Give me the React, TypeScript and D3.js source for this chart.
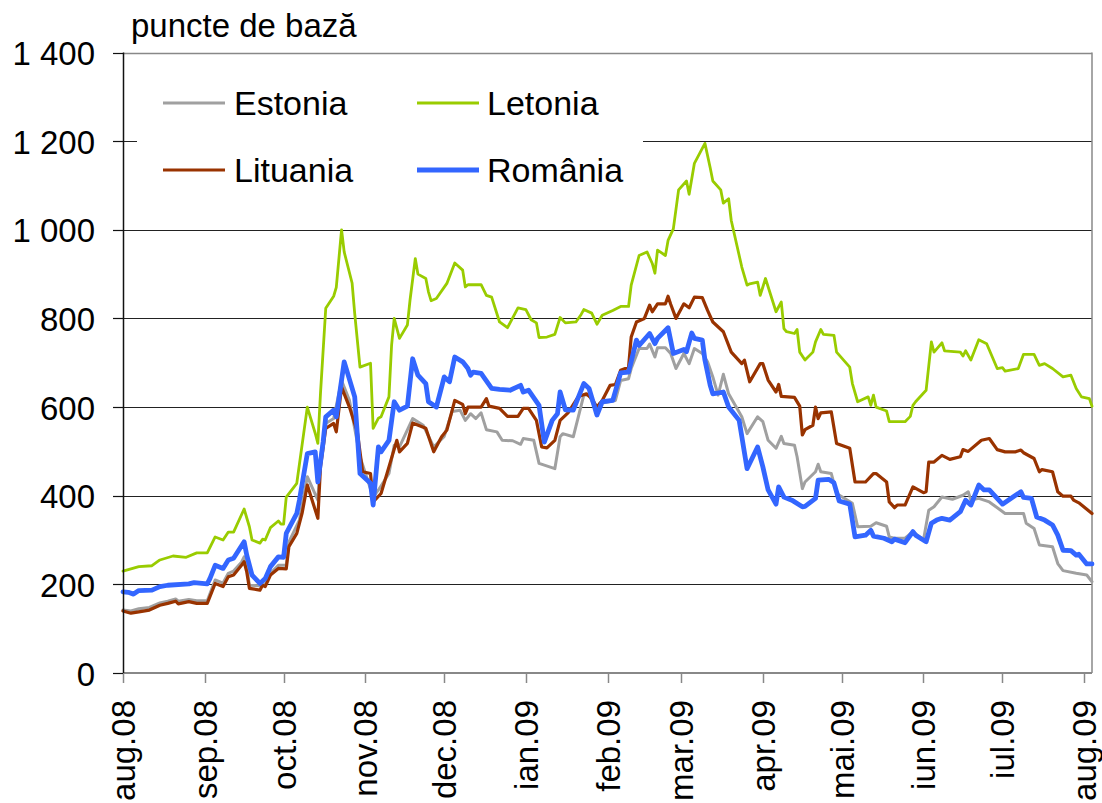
import React from 'react';
import * as d3 from 'd3';

// ---------- data ----------
const estonia: [string, number][] = [
  ["2008-08-01",142],["2008-08-04",140],["2008-08-07",145],["2008-08-11",148],["2008-08-15",158],["2008-08-18",162],["2008-08-21",167],["2008-08-22",162],["2008-08-26",166],["2008-08-29",163],
  ["2008-09-02",163],["2008-09-05",210],["2008-09-08",203],["2008-09-10",225],["2008-09-12",230],["2008-09-15",250],["2008-09-16",262],["2008-09-17",240],["2008-09-18",198],["2008-09-22",197],["2008-09-24",200],["2008-09-26",225],["2008-09-29",243],
  ["2008-10-02",243],["2008-10-03",296],["2008-10-07",345],["2008-10-10",443],["2008-10-14",390],["2008-10-15",488],["2008-10-17",563],["2008-10-20",574],["2008-10-23",660],["2008-10-26",615],["2008-10-30",488],
  ["2008-11-04",397],["2008-11-06",413],["2008-11-10",450],["2008-11-12",514],["2008-11-14",510],["2008-11-19",574],["2008-11-23",559],["2008-11-27",510],
  ["2008-12-01",534],["2008-12-04",590],["2008-12-07",593],["2008-12-09",570],["2008-12-11",585],["2008-12-13",574],["2008-12-15",587],["2008-12-17",549],["2008-12-21",544],["2008-12-23",525],["2008-12-27",524],["2008-12-30",516],["2008-12-31",529],
  ["2009-01-04",525],["2009-01-06",473],["2009-01-12",461],["2009-01-14",533],["2009-01-15",540],["2009-01-19",533],["2009-01-23",627],["2009-01-25",627],["2009-01-28",589],["2009-01-29",608],
  ["2009-02-04",615],["2009-02-06",660],["2009-02-09",664],["2009-02-10",687],["2009-02-13",732],["2009-02-16",732],["2009-02-17",742],["2009-02-19",713],["2009-02-20",734],["2009-02-23",734],["2009-02-25",721],["2009-02-27",687],
  ["2009-03-02",721],["2009-03-04",698],["2009-03-06",732],["2009-03-09",721],["2009-03-11",702],["2009-03-13",668],["2009-03-15",627],["2009-03-17",674],["2009-03-19",630],["2009-03-24",578],["2009-03-26",540],["2009-03-30",578],
  ["2009-04-01",567],["2009-04-03",525],["2009-04-06",507],["2009-04-08",534],["2009-04-09",518],["2009-04-13",514],["2009-04-14",488],["2009-04-16",416],["2009-04-17",431],["2009-04-21",454],["2009-04-22",471],["2009-04-23",454],["2009-04-27",450],["2009-04-29",405],
  ["2009-05-05",383],["2009-05-07",330],["2009-05-12",331],["2009-05-14",339],["2009-05-18",331],["2009-05-19",307],["2009-05-21",304],["2009-05-25",304],["2009-05-28",319],
  ["2009-06-01",300],["2009-06-03",367],["2009-06-05",375],["2009-06-08",397],["2009-06-12",392],["2009-06-16",401],["2009-06-18",409],["2009-06-19",390],["2009-06-22",394],["2009-06-26",386],
  ["2009-07-02",360],["2009-07-09",360],["2009-07-10",338],["2009-07-13",326],["2009-07-15",289],["2009-07-20",285],["2009-07-22",247],["2009-07-24",231],["2009-07-29",225],
  ["2009-08-02",221],["2009-08-04",206],
];

const letonia: [string, number][] = [
  ["2008-08-01",230],["2008-08-07",240],["2008-08-12",242],["2008-08-15",255],["2008-08-20",264],["2008-08-25",261],["2008-08-29",271],
  ["2008-09-02",271],["2008-09-05",307],["2008-09-08",300],["2008-09-10",318],["2008-09-12",318],["2008-09-16",370],["2008-09-18",330],["2008-09-19",300],["2008-09-22",293],["2008-09-23",302],["2008-09-24",300],["2008-09-26",328],["2008-09-29",343],["2008-09-30",336],
  ["2008-10-01",336],["2008-10-02",397],["2008-10-06",428],["2008-10-10",600],["2008-10-13",541],["2008-10-14",518],["2008-10-15",631],["2008-10-17",823],["2008-10-20",850],["2008-10-21",870],["2008-10-23",1000],["2008-10-24",950],["2008-10-27",880],["2008-10-28",811],["2008-10-30",690],
  ["2008-11-03",699],["2008-11-04",552],["2008-11-06",575],["2008-11-07",578],["2008-11-10",623],["2008-11-11",739],["2008-11-12",800],["2008-11-14",755],["2008-11-17",785],["2008-11-18",841],["2008-11-20",935],["2008-11-21",900],["2008-11-24",890],["2008-11-25",860],["2008-11-26",840],["2008-11-28",845],
  ["2008-12-02",879],["2008-12-05",925],["2008-12-08",909],["2008-12-09",871],["2008-12-10",876],["2008-12-15",876],["2008-12-17",852],["2008-12-19",848],["2008-12-22",792],["2008-12-25",779],["2008-12-29",824],
  ["2009-01-01",820],["2009-01-03",797],["2009-01-05",790],["2009-01-06",757],["2009-01-09",758],["2009-01-12",764],["2009-01-14",802],["2009-01-16",790],["2009-01-20",792],["2009-01-22",809],["2009-01-23",820],["2009-01-26",812],["2009-01-28",787],["2009-01-30",807],
  ["2009-02-03",818],["2009-02-06",827],["2009-02-09",827],["2009-02-10",875],["2009-02-13",942],["2009-02-16",950],["2009-02-18",924],["2009-02-19",902],["2009-02-20",954],["2009-02-23",942],["2009-02-24",976],["2009-02-26",1002],["2009-02-28",1090],
  ["2009-03-03",1110],["2009-03-04",1080],["2009-03-06",1150],["2009-03-10",1195],["2009-03-12",1140],["2009-03-13",1110],["2009-03-16",1090],["2009-03-17",1060],["2009-03-19",1070],["2009-03-20",1021],["2009-03-24",916],["2009-03-26",875],["2009-03-27",878],["2009-03-30",882],["2009-03-31",852],
  ["2009-04-02",890],["2009-04-06",815],["2009-04-08",837],["2009-04-09",777],["2009-04-10",770],["2009-04-13",766],["2009-04-14",775],["2009-04-15",724],["2009-04-17",706],["2009-04-20",724],["2009-04-21",747],["2009-04-23",775],["2009-04-24",764],["2009-04-28",762],["2009-04-29",724],
  ["2009-05-04",690],["2009-05-05",653],["2009-05-07",612],["2009-05-11",623],["2009-05-12",604],["2009-05-13",627],["2009-05-14",600],["2009-05-18",591],["2009-05-19",567],["2009-05-25",567],["2009-05-27",579],["2009-05-28",604],["2009-05-29",612],
  ["2009-06-02",638],["2009-06-04",747],["2009-06-05",724],["2009-06-08",745],["2009-06-09",727],["2009-06-15",724],["2009-06-16",715],["2009-06-17",727],["2009-06-19",706],["2009-06-22",752],["2009-06-25",743],["2009-06-29",687],
  ["2009-07-01",689],["2009-07-02",681],["2009-07-07",687],["2009-07-09",719],["2009-07-13",719],["2009-07-15",694],["2009-07-17",698],["2009-07-20",687],["2009-07-24",668],["2009-07-27",672],["2009-07-29",642],["2009-07-31",623],
  ["2009-08-03",619],["2009-08-04",602],
];

const lituania: [string, number][] = [
  ["2008-08-01",140],["2008-08-04",135],["2008-08-07",138],["2008-08-11",142],["2008-08-15",153],["2008-08-18",157],["2008-08-21",162],["2008-08-22",156],["2008-08-26",161],["2008-08-29",157],
  ["2008-09-02",157],["2008-09-05",202],["2008-09-08",195],["2008-09-10",217],["2008-09-12",221],["2008-09-15",243],["2008-09-16",251],["2008-09-17",228],["2008-09-18",191],["2008-09-22",187],["2008-09-23",198],["2008-09-24",195],["2008-09-26",221],["2008-09-29",236],
  ["2008-10-02",235],["2008-10-03",285],["2008-10-06",315],["2008-10-08",360],["2008-10-10",424],["2008-10-14",349],["2008-10-15",465],["2008-10-17",552],["2008-10-20",563],["2008-10-21",544],["2008-10-23",645],["2008-10-26",600],["2008-10-29",544],["2008-10-31",454],
  ["2008-11-03",450],["2008-11-04",386],["2008-11-07",405],["2008-11-10",465],["2008-11-13",525],["2008-11-14",499],["2008-11-17",518],["2008-11-19",564],["2008-11-24",552],["2008-11-27",499],["2008-11-30",533],
  ["2008-12-02",548],["2008-12-05",615],["2008-12-08",606],["2008-12-09",585],["2008-12-10",600],["2008-12-15",600],["2008-12-17",619],["2008-12-18",602],["2008-12-22",597],["2008-12-25",579],["2008-12-29",579],["2008-12-31",597],
  ["2009-01-02",597],["2009-01-05",570],["2009-01-07",510],["2009-01-09",508],["2009-01-12",525],["2009-01-14",570],["2009-01-17",587],["2009-01-21",624],["2009-01-24",630],["2009-01-26",619],["2009-01-28",600],["2009-01-30",615],
  ["2009-02-02",649],["2009-02-04",651],["2009-02-06",683],["2009-02-09",690],["2009-02-10",758],["2009-02-12",792],["2009-02-15",800],["2009-02-17",830],["2009-02-18",815],["2009-02-20",833],["2009-02-23",833],["2009-02-24",850],["2009-02-25",832],["2009-02-27",800],
  ["2009-03-02",833],["2009-03-04",824],["2009-03-06",848],["2009-03-09",847],["2009-03-11",818],["2009-03-13",792],["2009-03-17",770],["2009-03-20",724],["2009-03-24",698],["2009-03-25",706],["2009-03-27",657],["2009-03-31",698],
  ["2009-04-01",698],["2009-04-03",661],["2009-04-06",634],["2009-04-07",651],["2009-04-08",624],["2009-04-13",622],["2009-04-15",602],["2009-04-16",537],["2009-04-17",549],["2009-04-20",559],["2009-04-21",600],["2009-04-22",574],["2009-04-23",587],["2009-04-27",589],["2009-04-29",518],
  ["2009-05-04",507],["2009-05-06",431],["2009-05-10",431],["2009-05-13",450],["2009-05-14",450],["2009-05-18",431],["2009-05-19",386],["2009-05-21",373],["2009-05-22",379],["2009-05-25",379],["2009-05-28",420],
  ["2009-06-01",407],["2009-06-02",409],["2009-06-03",476],["2009-06-05",476],["2009-06-08",491],["2009-06-11",482],["2009-06-15",488],["2009-06-16",504],["2009-06-18",500],["2009-06-23",525],["2009-06-26",529],["2009-06-29",504],
  ["2009-07-02",499],["2009-07-06",499],["2009-07-08",503],["2009-07-09",497],["2009-07-13",484],["2009-07-15",454],["2009-07-16",459],["2009-07-20",454],["2009-07-22",409],["2009-07-24",399],["2009-07-27",399],["2009-07-28",390],["2009-07-30",384],
  ["2009-08-04",360],
];

const romania: [string, number][] = [
  ["2008-08-01",183],["2008-08-03",182],["2008-08-05",178],["2008-08-07",186],["2008-08-12",187],["2008-08-15",195],["2008-08-18",198],["2008-08-26",201],["2008-08-28",204],
  ["2008-09-02",201],["2008-09-03",213],["2008-09-05",243],["2008-09-08",236],["2008-09-10",255],["2008-09-12",259],["2008-09-16",296],["2008-09-17",266],["2008-09-19",221],["2008-09-22",202],["2008-09-24",213],["2008-09-26",240],["2008-09-29",262],
  ["2008-10-01",261],["2008-10-02",315],["2008-10-06",360],["2008-10-07",390],["2008-10-10",495],["2008-10-13",499],["2008-10-14",431],["2008-10-16",521],["2008-10-17",578],["2008-10-20",593],["2008-10-21",578],["2008-10-24",702],["2008-10-28",623],["2008-10-30",450],
  ["2008-11-03",428],["2008-11-04",379],["2008-11-06",510],["2008-11-07",499],["2008-11-10",525],["2008-11-12",612],["2008-11-14",593],["2008-11-17",602],["2008-11-19",709],["2008-11-21",672],["2008-11-24",653],["2008-11-25",612],["2008-11-28",600],
  ["2008-12-01",668],["2008-12-03",657],["2008-12-05",713],["2008-12-08",702],["2008-12-10",687],["2008-12-11",672],["2008-12-12",679],["2008-12-15",676],["2008-12-19",642],["2008-12-22",640],["2008-12-26",638],["2008-12-30",649],["2008-12-31",634],
  ["2009-01-02",638],["2009-01-06",604],["2009-01-08",521],["2009-01-11",570],["2009-01-13",585],["2009-01-14",634],["2009-01-16",594],["2009-01-19",593],["2009-01-23",653],["2009-01-25",642],["2009-01-28",582],["2009-01-30",612],
  ["2009-02-03",615],["2009-02-06",677],["2009-02-09",679],["2009-02-12",751],["2009-02-13",739],["2009-02-17",766],["2009-02-19",743],["2009-02-20",755],["2009-02-24",779],["2009-02-26",721],
  ["2009-03-02",730],["2009-03-03",725],["2009-03-05",767],["2009-03-06",755],["2009-03-09",751],["2009-03-10",706],["2009-03-12",649],["2009-03-13",630],["2009-03-17",634],["2009-03-19",600],["2009-03-23",570],["2009-03-26",461],["2009-03-30",510],
  ["2009-04-01",465],["2009-04-03",413],["2009-04-06",381],["2009-04-07",420],["2009-04-09",397],["2009-04-12",390],["2009-04-16",375],["2009-04-17",376],["2009-04-21",394],["2009-04-22",435],["2009-04-26",437],["2009-04-28",429],["2009-04-30",388],
  ["2009-05-04",381],["2009-05-06",307],["2009-05-10",311],["2009-05-12",322],["2009-05-13",309],["2009-05-17",304],["2009-05-20",296],["2009-05-21",302],["2009-05-25",294],["2009-05-28",319],["2009-05-29",311],
  ["2009-06-02",296],["2009-06-04",338],["2009-06-06",345],["2009-06-08",349],["2009-06-11",345],["2009-06-15",364],["2009-06-17",390],["2009-06-19",379],["2009-06-22",424],["2009-06-24",413],["2009-06-26",413],
  ["2009-07-01",381],["2009-07-05",397],["2009-07-08",409],["2009-07-09",396],["2009-07-12",394],["2009-07-14",352],["2009-07-17",345],["2009-07-20",334],["2009-07-22",311],["2009-07-24",277],["2009-07-27",276],["2009-07-29",266],["2009-07-30",268],
  ["2009-08-02",246],["2009-08-04",246],
];

const seriesNames = ["Estonia", "Letonia", "Lituania", "România"];
const yTickValues = [0, 200, 400, 600, 800, 1000, 1200, 1400];
const yTickLabels = ["0", "200", "400", "600", "800", "1 000", "1 200", "1 400"];
const monthTicks = ["2008-08-01","2008-09-01","2008-10-01","2008-11-01","2008-12-01","2009-01-01","2009-02-01","2009-03-01","2009-04-01","2009-05-01","2009-06-01","2009-07-01","2009-08-01"];
const monthLabels = ["aug.08","sep.08","oct.08","nov.08","dec.08","ian.09","feb.09","mar.09","apr.09","mai.09","iun.09","iul.09","aug.09"];
const axisTitle = "puncte de bază";
const dateStart = "2008-08-01";
const dateEnd = "2009-08-04";

// ---------- styling ----------
const FONT = "'Liberation Sans', Arial, sans-serif";
const styles = [
  { color: "#a0a0a0", width: 3 },
  { color: "#99cc00", width: 2.8 },
  { color: "#993300", width: 3.2 },
  { color: "#3366ff", width: 4.8 },
];

const W = 1102, H = 803;
const LEFT = 123, RIGHT = 1092, TOP = 52.5, BOTTOM = 673;

export default function App() {
  const parse = d3.timeParse("%Y-%m-%d");
  const x = d3.scaleTime().domain([parse(dateStart)!, parse(dateEnd)!]).range([LEFT, RIGHT]);
  const y = d3.scaleLinear().domain([0, 1400]).range([BOTTOM, TOP]);
  const line = d3.line<[string, number]>()
    .x(d => x(parse(d[0])!))
    .y(d => y(d[1]));
  const allSeries = [estonia, letonia, lituania, romania];
  const crisp = (v: number) => Math.round(v) + 0.5;

  const legendItems = [
    { i: 0, lx: 163, ly: 103, tx: 234, ty: 115 },
    { i: 1, lx: 417, ly: 103, tx: 487, ty: 115 },
    { i: 2, lx: 163, ly: 170, tx: 234, ty: 182 },
    { i: 3, lx: 417, ly: 170, tx: 487, ty: 182 },
  ];

  return (
    <svg width={W} height={H} style={{ position: 'absolute', left: 0, top: 0, background: '#fff' }}
      fontFamily={FONT}>
      <rect x={0} y={0} width={W} height={H} fill="#fff" />
      {/* gridlines */}
      {yTickValues.filter(v => v > 0 && v < 1400).map(v => (
        <line key={'g' + v} x1={LEFT} x2={RIGHT} y1={crisp(y(v))} y2={crisp(y(v))} stroke="#222" strokeWidth={1} />
      ))}
      {/* plot border */}
      <line x1={LEFT} x2={RIGHT} y1={crisp(y(1400))} y2={crisp(y(1400))} stroke="#888" strokeWidth={1.5} />
      <line x1={RIGHT} x2={RIGHT} y1={TOP} y2={BOTTOM} stroke="#888" strokeWidth={1.5} />
      {/* legend background */}
      <rect x={137} y={55} width={506} height={145} fill="#fff" />
      {/* series */}
      {allSeries.map((s, i) => (
        <path key={'s' + i} d={line(s) || ''} fill="none" stroke={styles[i].color}
          strokeWidth={styles[i].width} strokeLinejoin="round" strokeLinecap="round" />
      ))}
      {/* axes */}
      <line x1={LEFT} x2={RIGHT} y1={BOTTOM} y2={BOTTOM} stroke="#888" strokeWidth={2} />
      {monthTicks.map((m, i) => {
        const tx = Math.round(x(parse(m)!)) + 0.5;
        return <line key={'xt' + i} x1={tx} x2={tx} y1={BOTTOM} y2={BOTTOM + 10} stroke="#888" strokeWidth={1.5} />;
      })}
      <line x1={LEFT + 0.5} x2={LEFT + 0.5} y1={TOP} y2={BOTTOM} stroke="#111" strokeWidth={1.5} />
      {yTickValues.map(v => (
        <line key={'yt' + v} x1={113} x2={LEFT} y1={crisp(y(v))} y2={crisp(y(v))} stroke="#111" strokeWidth={1.2} />
      ))}
      {/* y labels */}
      {yTickValues.map((v, i) => (
        <text key={'yl' + v} x={95} y={y(v) + 12.5} fontSize={33} textAnchor="end" fill="#000">{yTickLabels[i]}</text>
      ))}
      {/* x labels */}
      {monthTicks.map((m, i) => {
        const tx = x(parse(m)!) + 12;
        return (
          <text key={'xl' + i} transform={`translate(${tx},700) rotate(-90)`} fontSize={33} textAnchor="end" fill="#000">
            {monthLabels[i]}
          </text>
        );
      })}
      {/* axis title */}
      <text x={131} y={37} fontSize={33} fill="#000">{axisTitle}</text>
      {/* legend */}
      {legendItems.map(it => (
        <g key={'lg' + it.i}>
          <line x1={it.lx} x2={it.lx + 62} y1={it.ly} y2={it.ly} stroke={styles[it.i].color} strokeWidth={styles[it.i].width} />
          <text x={it.tx} y={it.ty} fontSize={34} fill="#000">{seriesNames[it.i]}</text>
        </g>
      ))}
    </svg>
  );
}
